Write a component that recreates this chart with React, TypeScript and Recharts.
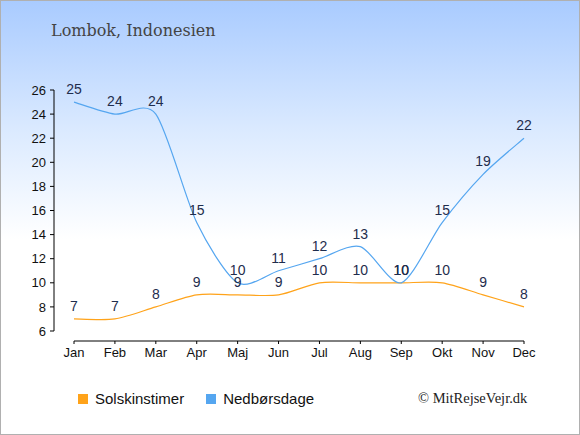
import { LineChart, Line, XAxis, YAxis, LabelList, Legend } from "recharts"

const months = ["Jan", "Feb", "Mar", "Apr", "Maj", "Jun", "Jul", "Aug", "Sep", "Okt", "Nov", "Dec"]
const sunHours = [7, 7, 8, 9, 9, 9, 10, 10, 10, 10, 9, 8]
const rainDays = [25, 24, 24, 15, 10, 11, 12, 13, 10, 15, 19, 22]
const yTicks = [6, 8, 10, 12, 14, 16, 18, 20, 22, 24, 26]
const legendOrder = ["Solskinstimer", "Nedbørsdage"]

const data = months.map((m, i) => ({ month: m, sun: sunHours[i], rain: rainDays[i] }))

const font = "Liberation Sans, Arial, sans-serif"
const labelStyle = { fill: "#1f2d4d", fontSize: 14, fontFamily: font }

// cardinal-ish curve, the reference overshoots a little around flat parts
const cardinal = (context: any) => {
  let pts: [number, number][] = []
  const k = 1 / 7.5
  return {
    areaStart() {},
    areaEnd() {},
    lineStart() {
      pts = []
    },
    point(x: number, y: number) {
      pts.push([+x, +y])
    },
    lineEnd() {
      if (!pts.length) return
      context.moveTo(pts[0][0], pts[0][1])
      for (let i = 0; i < pts.length - 1; i++) {
        const p0 = pts[Math.max(i - 1, 0)]
        const p1 = pts[i]
        const p2 = pts[i + 1]
        const p3 = pts[Math.min(i + 2, pts.length - 1)]
        context.bezierCurveTo(
          p1[0] + (p2[0] - p0[0]) * k,
          p1[1] + (p2[1] - p0[1]) * k,
          p2[0] - (p3[0] - p1[0]) * k,
          p2[1] - (p3[1] - p1[1]) * k,
          p2[0],
          p2[1]
        )
      }
    },
  }
}

const renderLegend = (props: any) => {
  const items = [...props.payload].sort(
    (a: any, b: any) => legendOrder.indexOf(a.value) - legendOrder.indexOf(b.value)
  )
  return (
    <div style={{ display: "flex", fontFamily: font, fontSize: 15, color: "#111", whiteSpace: "nowrap" }}>
      {items.map((p: any) => (
        <div key={p.value} style={{ display: "flex", alignItems: "center", marginRight: 22 }}>
          <span
            style={{ width: 10, height: 10, background: p.color, display: "inline-block", marginRight: 7, flexShrink: 0 }}
          />
          {p.value}
        </div>
      ))}
    </div>
  )
}

const App = () => {
  return (
    <div
      style={{
        position: "fixed",
        left: 0,
        top: 0,
        width: 578,
        height: 433,
        border: "1px solid #b0b0b0",
        background: "linear-gradient(to bottom, #a9cbff 0%, #dbeaff 30%, #ffffff 55%, #ffffff 100%)",
      }}
    >
      <div
        style={{
          position: "absolute",
          left: 50,
          top: 20,
          fontFamily: "DejaVu Serif, serif",
          fontSize: 16,
          color: "#444",
        }}
      >
        Lombok, Indonesien
      </div>

      <div
        style={{
          position: "absolute",
          left: 417,
          top: 389,
          fontFamily: "Liberation Serif, serif",
          fontSize: 14.5,
          color: "#222",
        }}
      >
        © MitRejseVejr.dk
      </div>

      <LineChart
        width={578}
        height={433}
        data={data}
        margin={{ top: 89, right: 55, bottom: 0, left: 0 }}
        style={{ position: "absolute", left: 0, top: 0 }}
      >
        <XAxis
          dataKey="month"
          padding={{ left: 20, right: 0 }}
          height={93}
          tickSize={3}
          tickMargin={4}
          axisLine={{ stroke: "#000", strokeDasharray: "0 20 470" }}
          tickLine={{ stroke: "#000" }}
          tick={{ fill: "#111", fontSize: 13, fontFamily: font }}
          interval={0}
        />
        <YAxis
          width={53}
          domain={[6, 26]}
          ticks={yTicks}
          padding={{ top: 0, bottom: 10 }}
          tickSize={4}
          tickMargin={4}
          axisLine={{ stroke: "#000", strokeDasharray: "241 1000" }}
          tickLine={{ stroke: "#000" }}
          tick={{ fill: "#111", fontSize: 13, fontFamily: font }}
          interval={0}
        />
        <Legend
          layout="horizontal"
          verticalAlign="middle"
          align="center"
          content={renderLegend}
          wrapperStyle={{ position: "absolute", left: 77, top: 389, width: 320 }}
        />
        <Line
          type={cardinal as any}
          dataKey="sun"
          name="Solskinstimer"
          stroke="#ffa31a"
          strokeWidth={1.2}
          dot={false}
          activeDot={false}
          isAnimationActive={false}
          legendType="square"
        >
          <LabelList dataKey="sun" position="top" offset={8} style={labelStyle} />
        </Line>
        <Line
          type={cardinal as any}
          dataKey="rain"
          name="Nedbørsdage"
          stroke="#55a6f0"
          strokeWidth={1.2}
          dot={false}
          activeDot={false}
          isAnimationActive={false}
          legendType="square"
        >
          <LabelList dataKey="rain" position="top" offset={8} style={labelStyle} />
        </Line>
      </LineChart>
    </div>
  )
}

export default App
